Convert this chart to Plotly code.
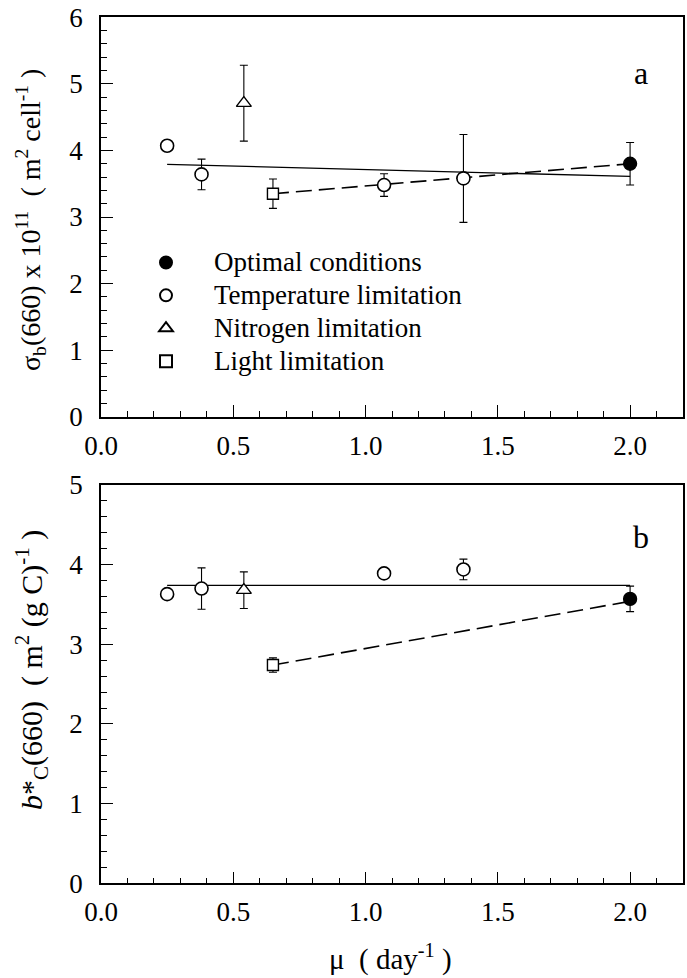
import plotly.graph_objects as go

# ---------------- data ----------------
# Panel a: sigma_b(660) x 1e11 (m2 cell-1)
a_opt_x = [2.0]
a_opt_y = [3.80]
a_opt_e = [0.32]
a_temp_x = [0.25, 0.38, 1.07, 1.37]
a_temp_y = [4.07, 3.64, 3.48, 3.58]
a_temp_e = [0.0, 0.23, 0.17, 0.66]
a_nit_x = [0.54]
a_nit_y = [4.71]
a_nit_e = [0.57]
a_light_x = [0.65]
a_light_y = [3.35]
a_light_e = [0.22]
a_solid_x = [0.25, 2.0]
a_solid_y = [3.79, 3.61]
a_dash_x = [0.65, 2.0]
a_dash_y = [3.35, 3.80]

# Panel b: b*C(660) (m2 (g C)-1)
b_opt_x = [2.0]
b_opt_y = [3.57]
b_opt_e = [0.16]
b_temp_x = [0.25, 0.38, 1.07, 1.37]
b_temp_y = [3.63, 3.70, 3.89, 3.94]
b_temp_e = [0.04, 0.26, 0.0, 0.13]
b_nit_x = [0.54]
b_nit_y = [3.68]
b_nit_e = [0.23]
b_light_x = [0.65]
b_light_y = [2.74]
b_light_e = [0.09]
b_solid_x = [0.25, 2.0]
b_solid_y = [3.74, 3.74]
b_dash_x = [0.65, 2.0]
b_dash_y = [2.74, 3.54]

names = ["Optimal conditions", "Temperature limitation", "Nitrogen limitation", "Light limitation"]
x_ticks = [0.0, 0.5, 1.0, 1.5, 2.0]
x_ticklabels = ["0.0", "0.5", "1.0", "1.5", "2.0"]

FONT = "Liberation Serif"

fig = go.Figure()

def add_panel(xa, ya, solid_x, solid_y, dash_x, dash_y, groups, show):
    fig.add_trace(go.Scatter(x=solid_x, y=solid_y, mode="lines", xaxis=xa, yaxis=ya,
                             line=dict(color="black", width=1.3), showlegend=False, hoverinfo="skip"))
    fig.add_trace(go.Scatter(x=dash_x, y=dash_y, mode="lines", xaxis=xa, yaxis=ya,
                             line=dict(color="black", width=1.6, dash="16px,7px"), showlegend=False, hoverinfo="skip"))
    styles = [
        dict(symbol="circle", size=13, color="black", line=dict(color="black", width=1.3)),
        dict(symbol="circle", size=13, color="white", line=dict(color="black", width=1.6)),
        dict(symbol="triangle-up", size=13, color="white", line=dict(color="black", width=1.4)),
        dict(symbol="square", size=11, color="white", line=dict(color="black", width=1.4)),
    ]
    for i, (gx, gy, ge) in enumerate(groups):
        fig.add_trace(go.Scatter(
            x=gx, y=gy, mode="markers", xaxis=xa, yaxis=ya,
            name="<span style='font-size:27px'>" + names[i] + "</span>",
            legendgroup=names[i], showlegend=show,
            marker=styles[i],
            error_y=dict(type="data", array=ge, visible=True, color="black", thickness=1.1, width=4),
        ))

add_panel("x", "y", a_solid_x, a_solid_y, a_dash_x, a_dash_y,
          [(a_opt_x, a_opt_y, a_opt_e), (a_temp_x, a_temp_y, a_temp_e),
           (a_nit_x, a_nit_y, a_nit_e), (a_light_x, a_light_y, a_light_e)], True)
add_panel("x2", "y2", b_solid_x, b_solid_y, b_dash_x, b_dash_y,
          [(b_opt_x, b_opt_y, b_opt_e), (b_temp_x, b_temp_y, b_temp_e),
           (b_nit_x, b_nit_y, b_nit_e), (b_light_x, b_light_y, b_light_e)], False)

W, H = 687, 978
xdom = [101 / W, 683 / W]
ydom_a = [1 - 416.7 / H, 1 - 17.3 / H]
ydom_b = [1 - 883.3 / H, 1 - 485 / H]

xcommon = dict(range=[0, 2.2], tickvals=x_ticks, ticktext=x_ticklabels, ticks="inside", ticklen=12,
               tickwidth=1.2, tickcolor="black", showline=True, linecolor="black", linewidth=1.5,
               mirror=True, showgrid=False, zeroline=False, domain=xdom, automargin=False,
               tickfont=dict(family=FONT, size=27, color="black"), ticklabelstandoff=4,
               minor=dict(dtick=0.1, tick0=0, ticks="inside", ticklen=6, tickwidth=1.1, tickcolor="black", showgrid=False))

ycommon = dict(dtick=1, ticks="inside", ticklen=12, tickwidth=1.2, tickcolor="black",
               showline=True, linecolor="black", linewidth=1.5, mirror=True, showgrid=False, zeroline=False,
               automargin=False, tickfont=dict(family=FONT, size=27, color="black"), ticklabelstandoff=11,
               minor=dict(dtick=0.2, tick0=0, ticks="inside", ticklen=6, tickwidth=1.1, tickcolor="black", showgrid=False))

fig.update_layout(
    width=W, height=H,
    margin=dict(l=0, r=0, t=0, b=0, autoexpand=False),
    paper_bgcolor="white", plot_bgcolor="white",
    font=dict(family=FONT, color="black"),
    xaxis=dict(**xcommon, anchor="y"),
    xaxis2=dict(**xcommon, anchor="y2"),
    yaxis=dict(**ycommon, range=[0, 6], domain=ydom_a, anchor="x"),
    yaxis2=dict(**ycommon, range=[0, 5], domain=ydom_b, anchor="x2"),
    legend=dict(x=118 / W, y=1 - 241 / H, xanchor="left", yanchor="top",
                bgcolor="rgba(0,0,0,0)", font=dict(family=FONT, size=23, color="black"),
                itemsizing="constant", tracegroupgap=0, itemwidth=86),
    showlegend=True,
)

fig.add_annotation(text="a", x=2.04, y=5.17, xref="x", yref="y", showarrow=False,
                   font=dict(family=FONT, size=32, color="black"))
fig.add_annotation(text="b", x=2.04, y=4.35, xref="x2", yref="y2", showarrow=False,
                   font=dict(family=FONT, size=32, color="black"))

fig.add_annotation(text="σ<sub>b</sub>(660) x 10<sup>11</sup>  ( m<sup>2</sup> cell<sup>-1</sup> )",
                   x=31 / W, y=1 - 220 / H, xref="paper", yref="paper", textangle=-90,
                   xanchor="center", yanchor="middle",
                   showarrow=False, font=dict(family=FONT, size=28, color="black"))
fig.add_annotation(text="<i>b</i>*<sub>C</sub>(660)  ( m<sup>2</sup> (g C)<sup>-1</sup> )",
                   x=31 / W, y=1 - 670 / H, xref="paper", yref="paper", textangle=-90,
                   xanchor="center", yanchor="middle",
                   showarrow=False, font=dict(family=FONT, size=30, color="black"))
fig.add_annotation(text="μ  ( day<sup>-1</sup> )",
                   x=390 / W, y=0, xref="paper", yref="paper", yanchor="bottom",
                   showarrow=False, font=dict(family=FONT, size=29, color="black"))

fig.write_html("out.html", config={"displayModeBar": False},
               post_script="document.body.style.margin='0px';")
